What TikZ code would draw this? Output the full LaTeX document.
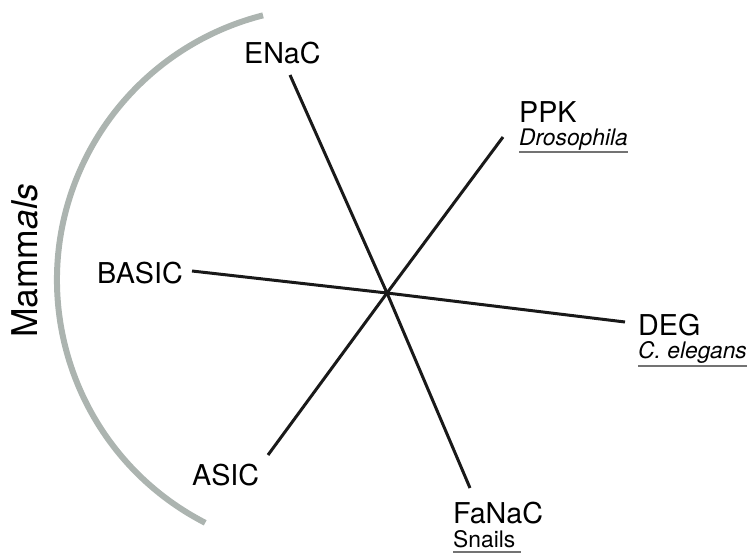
\documentclass[tikz,border=0pt]{standalone}
\usepackage{fontspec}
\setmainfont{TeX Gyre Heros}

\begin{document}
\begin{tikzpicture}[x=1pt, y=-1pt,
        branch/.style={line width=3pt, color=black!90},
        mammalarc/.style={line width=6pt, color={rgb,255:red,172;green,180;blue,176}}]
      \tikzstyle{family} = [font=\fontsize{28.7}{30}\selectfont, inner sep=0pt, anchor=base west]
      \tikzstyle{species} = [font=\fontsize{22.8}{24}\selectfont, inner sep=0pt, anchor=base west]
      \tikzstyle{uline} = [line width=1.3pt, color=black!55]
      \useasboundingbox (0,0) rectangle (750,554);
      % hub and free ends of the branches
      \coordinate (hub) at (387,293);
      \coordinate (eENaC) at (290,75);
      \coordinate (ePPK) at (503,137);
      \coordinate (eDEG) at (625,322);
      \coordinate (eFaNaC) at (470,488);
      \coordinate (eASIC) at (268,455);
      \coordinate (eBASIC) at (192,271);
      \draw[mammalarc] (330,280) ++(117.2:273) arc[start angle=117.2, end angle=255.8, radius=273];
      \foreach \e in {eENaC,ePPK,eDEG,eFaNaC,eASIC,eBASIC}
        \draw[branch] (hub) -- (\e);
      % labels
      \node (ENaC) [family] at (244,63) {ENaC};
      \node (PPK) [family] at (519,122) {PPK};
      \node (DEG) [family] at (638,335) {DEG};
      \node (FaNaC) [family] at (453,523) {FaNaC};
      \node (ASIC) [family] at (192,485) {ASIC};
      \node (BASIC) [family] at (97,283) {BASIC};
      \node (Dros) [species] at ([yshift=-23pt]PPK.base west) {\textit{Drosophila}};
      \node (Celeg) [species] at ([yshift=-23pt]DEG.base west) {\textit{C. elegans}};
      \node (Snails) [species] at ([yshift=-24pt]FaNaC.base west) {Snails};
      \draw[uline] ([yshift=-7pt]Dros.base west) -- ([yshift=-7pt]Dros.base east);
      \draw[uline] ([yshift=-8pt]Celeg.base west) -- ([yshift=-8pt]Celeg.base east);
      \draw[uline] ([yshift=-5pt]Snails.base west) -- ([yshift=-5pt,xshift=6pt]Snails.base east);
      \node (Mammals) [rotate=90, anchor=base, inner sep=0pt, font=\fontsize{35.5}{36}\selectfont] at (37,261) {Mamm\textit{als}};
    \end{tikzpicture}
\end{document}
